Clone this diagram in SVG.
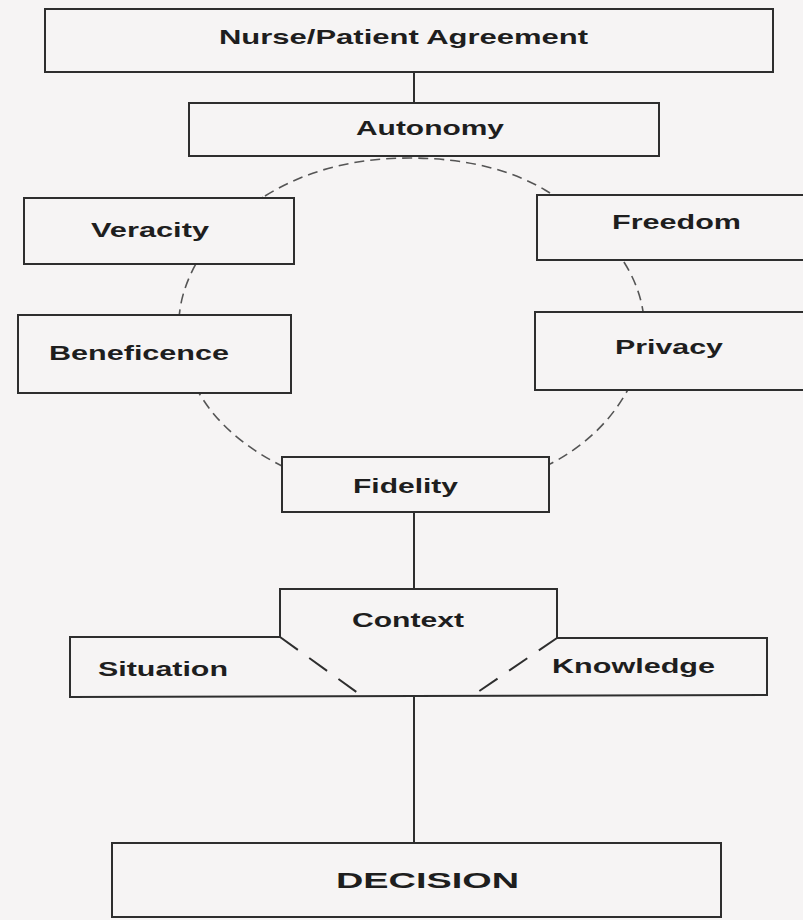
<svg xmlns="http://www.w3.org/2000/svg" width="803" height="920" viewBox="0 0 803 920">
<style>
.bg{fill:#f6f4f4}
.box{fill:#f6f4f4;stroke:#2e2e2e;stroke-width:2}
.ln{fill:none;stroke:#2e2e2e;stroke-width:2}
.oval{fill:none;stroke:#555;stroke-width:1.6;stroke-dasharray:10 6}
.dsh{fill:none;stroke:#2e2e2e;stroke-width:2;stroke-dasharray:22 14}
.t{font-family:"Liberation Sans",Arial,sans-serif;font-weight:bold;font-size:21px;fill:#1e1e1e}
</style>
<rect class="bg" x="0" y="0" width="803" height="920"/>
<g id="connectors">
<path class="oval" d="M265,196 C310,168 360,158 410,158 C470,158 515,172 545,190 C600,222 640,268 644,320 C648,370 615,430 552,463 C510,485 330,485 282,466 C230,440 190,400 180,340 C172,290 205,230 265,196 Z"/>
<line class="ln" x1="414" y1="72" x2="414" y2="104"/>
<line class="ln" x1="414" y1="512" x2="414" y2="589"/>
<line class="ln" x1="414" y1="696" x2="414" y2="843"/>
</g>
<g id="agreement"><rect class="box" x="45" y="9" width="728" height="63"/><text class="t" x="219" y="44" textLength="369" lengthAdjust="spacingAndGlyphs">Nurse/Patient Agreement</text></g>
<g id="autonomy"><rect class="box" x="189" y="103" width="470" height="53"/><text class="t" x="356" y="135" textLength="148" lengthAdjust="spacingAndGlyphs">Autonomy</text></g>
<g id="veracity"><rect class="box" x="24" y="198" width="270" height="66"/><text class="t" x="91" y="237" textLength="118" lengthAdjust="spacingAndGlyphs">Veracity</text></g>
<g id="freedom"><rect class="box" x="537" y="195" width="280" height="65"/><text class="t" x="612" y="229" textLength="129" lengthAdjust="spacingAndGlyphs">Freedom</text></g>
<g id="beneficence"><rect class="box" x="18" y="315" width="273" height="78"/><text class="t" x="49" y="360" textLength="180" lengthAdjust="spacingAndGlyphs">Beneficence</text></g>
<g id="privacy"><rect class="box" x="535" y="312" width="282" height="78"/><text class="t" x="615" y="354" textLength="108" lengthAdjust="spacingAndGlyphs">Privacy</text></g>
<g id="fidelity"><rect class="box" x="282" y="457" width="267" height="55"/><text class="t" x="353" y="493" textLength="105" lengthAdjust="spacingAndGlyphs">Fidelity</text></g>
<g id="context">
<polyline class="ln" points="280,637 280,589 557,589 557,638"/>
<text class="t" x="352" y="627" textLength="112" lengthAdjust="spacingAndGlyphs">Context</text>
<line class="dsh" x1="280" y1="637" x2="362" y2="696"/>
<line class="dsh" x1="557" y1="638" x2="472" y2="696"/>
</g>
<g id="situation">
<polyline class="ln" points="280,637 70,637 70,697 414,696"/>
<text class="t" x="98" y="676" textLength="130" lengthAdjust="spacingAndGlyphs">Situation</text>
</g>
<g id="knowledge">
<polyline class="ln" points="557,638 767,638 767,695 414,696"/>
<text class="t" x="552" y="673" textLength="163" lengthAdjust="spacingAndGlyphs">Knowledge</text>
</g>
<g id="decision"><rect class="box" x="112" y="843" width="609" height="74"/><text class="t" x="336" y="888" textLength="183" lengthAdjust="spacingAndGlyphs" style="font-size:22px">DECISION</text></g>
</svg>
